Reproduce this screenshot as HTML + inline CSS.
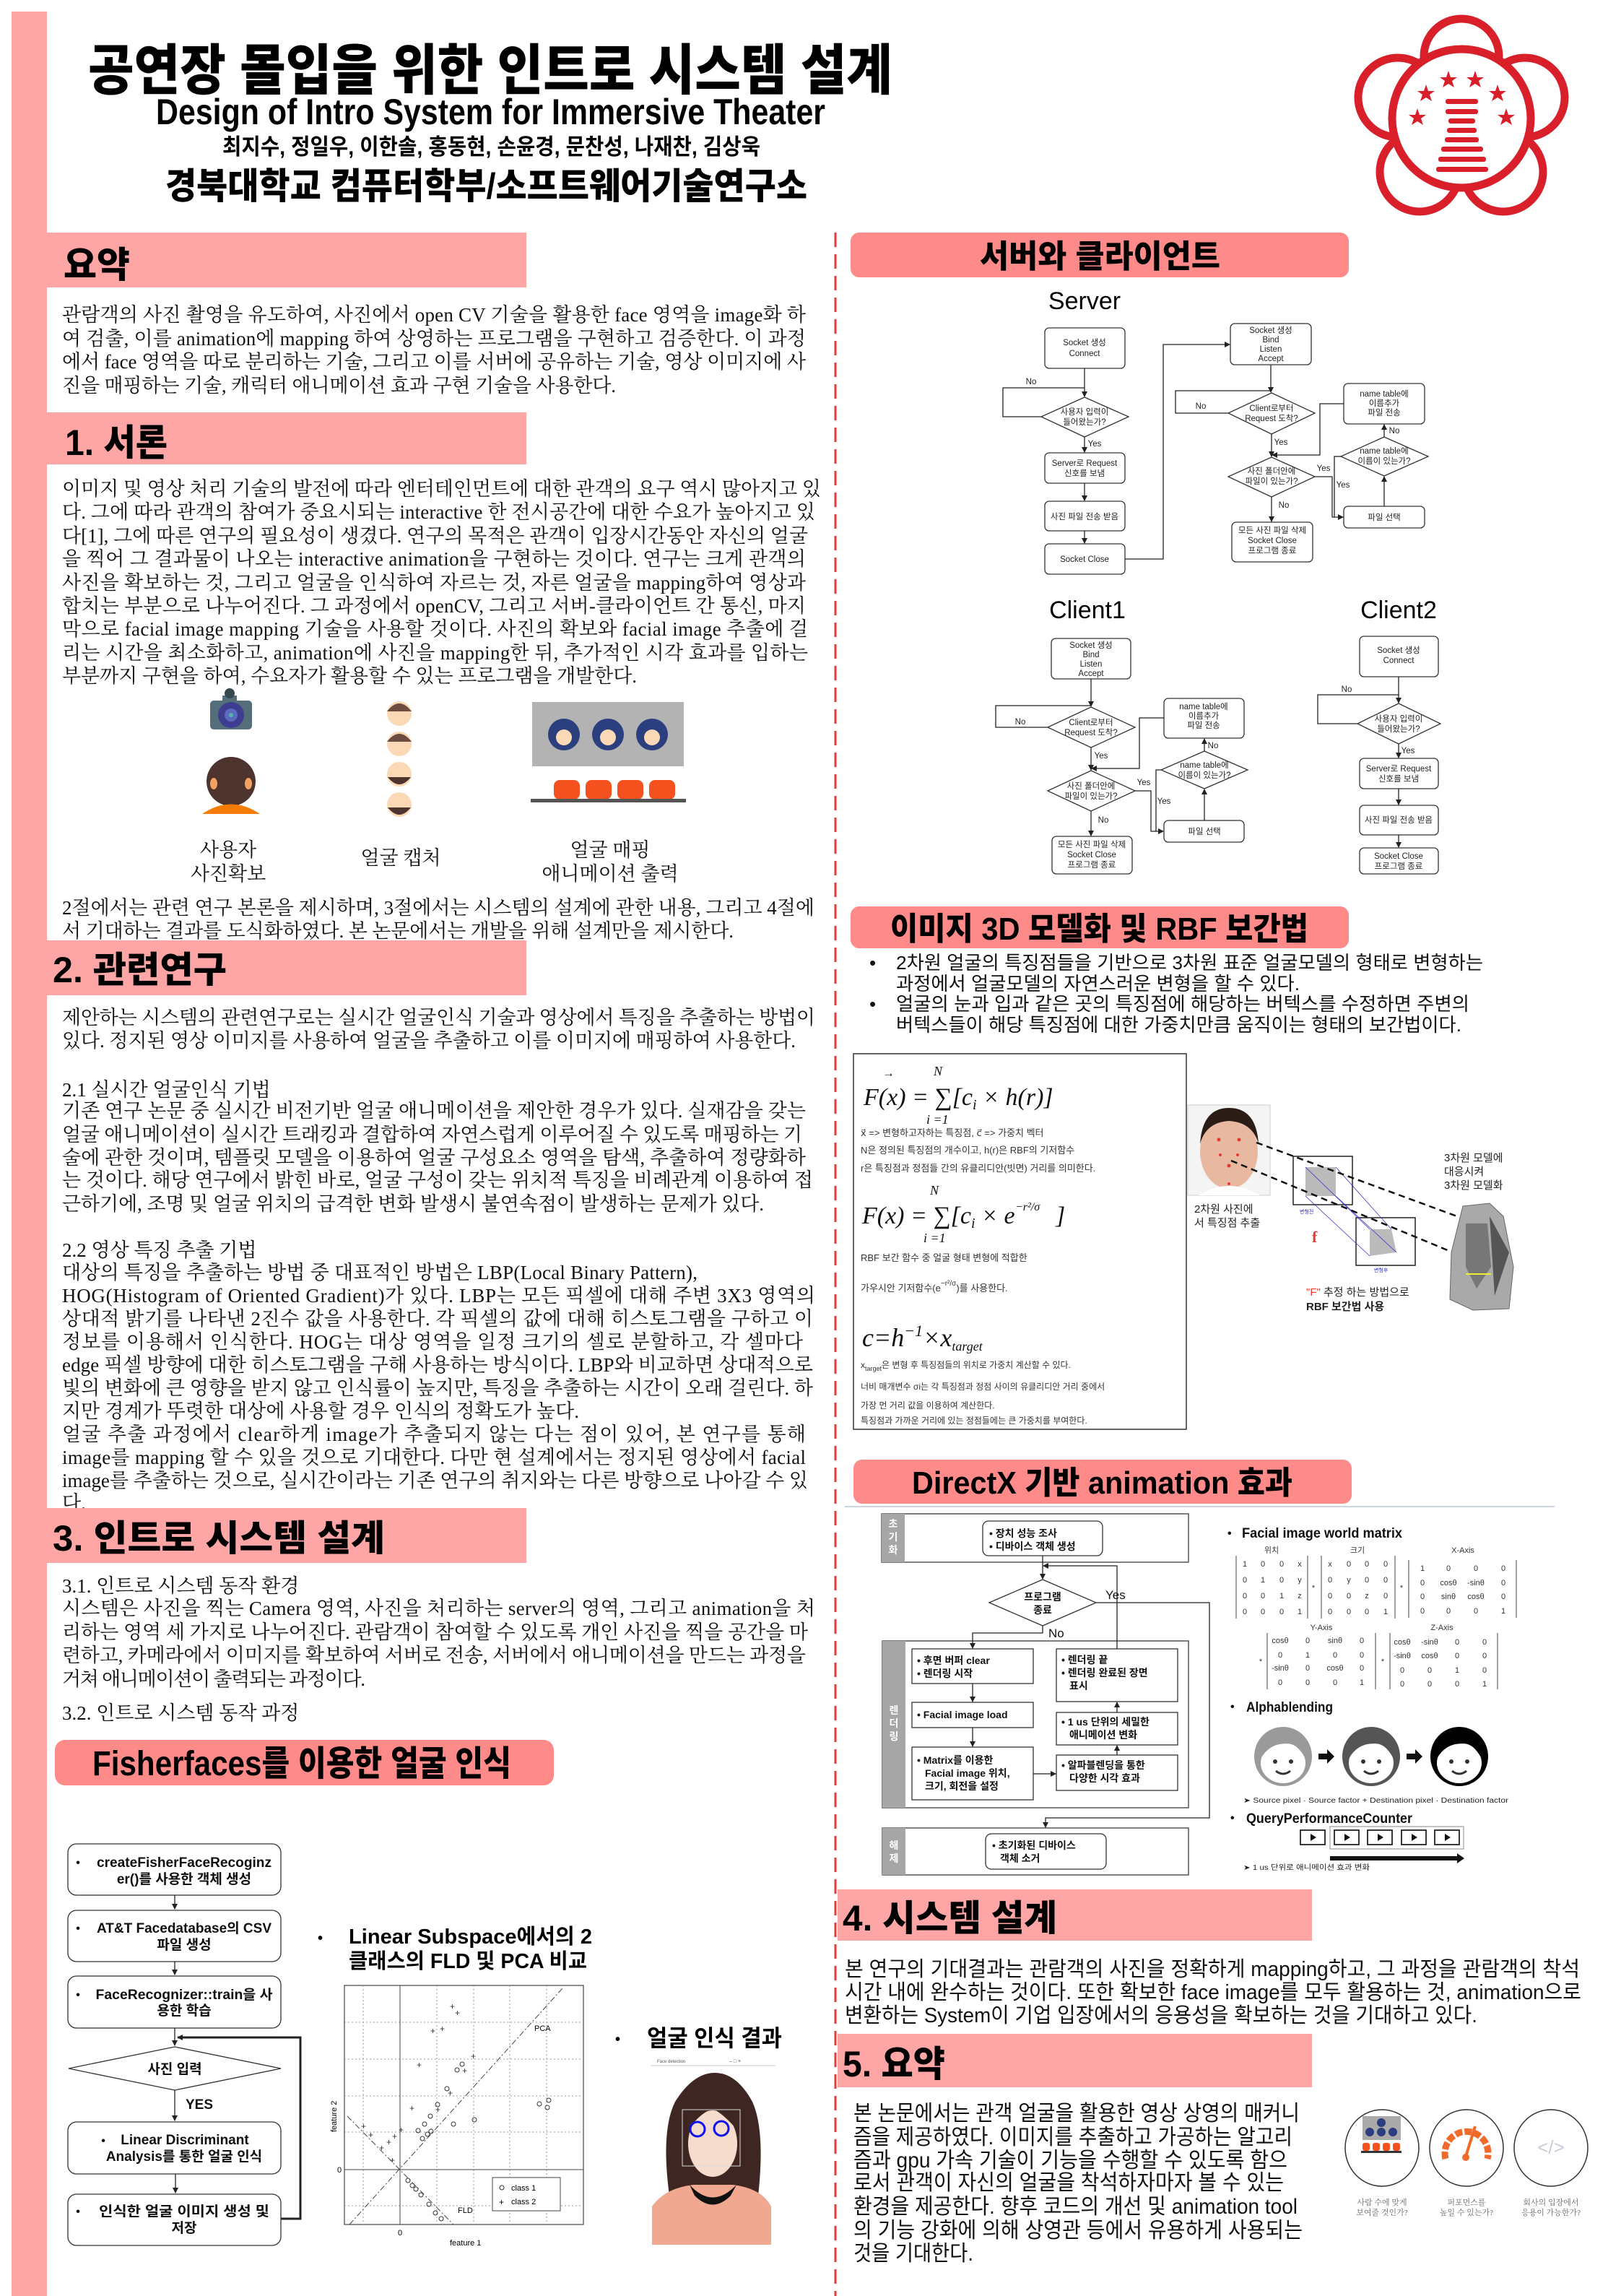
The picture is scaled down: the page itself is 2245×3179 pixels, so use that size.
<!DOCTYPE html>
<html><head><meta charset="utf-8"><style>
html,body{margin:0;padding:0;background:#fff}
svg{display:block}
.h{font-family:"Liberation Sans","Noto Sans CJK KR",sans-serif;font-weight:900}
.sb{font-family:"Liberation Sans","Noto Sans CJK KR",sans-serif;font-weight:700}
.s{font-family:"Liberation Sans","Noto Sans CJK KR",sans-serif}
.b{font-family:"Liberation Serif","Noto Serif CJK SC",serif;font-size:27px;fill:#111}
.f{font-family:"Liberation Sans","Noto Sans CJK KR",sans-serif;font-size:11.5px;fill:#222;text-anchor:middle}
.fb rect,.fb polygon{fill:#fff;stroke:#333;stroke-width:1.3}
.ln{fill:none;stroke:#222;stroke-width:1.3}
.m{font-family:"Liberation Serif","Noto Serif CJK SC",serif;font-style:italic;fill:#111}
.mt{font-family:"Liberation Sans","Noto Sans CJK KR",sans-serif;font-size:11px;fill:#333;text-anchor:middle}
</style></head><body>
<svg width="2245" height="3179" viewBox="0 0 2245 3179" xmlns="http://www.w3.org/2000/svg">
<defs>
<marker id="ar" markerWidth="8" markerHeight="8" refX="7" refY="4" orient="auto" markerUnits="userSpaceOnUse"><path d="M0,0 L8,4 L0,8 z" fill="#222"/></marker>
</defs>
<rect width="2245" height="3179" fill="#fff"/>
<rect x="16" y="16" width="49" height="3163" fill="#fea5a5"/>

<!-- Header -->
<text class="h" x="122" y="124" font-size="76" textLength="1114" lengthAdjust="spacingAndGlyphs">공연장 몰입을 위한 인트로 시스템 설계</text>
<text class="h" x="216" y="172" font-size="50" textLength="927" lengthAdjust="spacingAndGlyphs">Design of Intro System for Immersive Theater</text>
<text class="sb" x="308" y="214" font-size="31" textLength="745" lengthAdjust="spacingAndGlyphs">최지수, 정일우, 이한솔, 홍동현, 손윤경, 문찬성, 나재찬, 김상욱</text>
<text class="h" x="229" y="275" font-size="50" textLength="889" lengthAdjust="spacingAndGlyphs">경북대학교 컴퓨터학부/소프트웨어기술연구소</text>

<!-- Logo -->
<g stroke="#d9202a" stroke-width="11" fill="#fff">
<circle cx="2024" cy="78" r="52"/>
<circle cx="2112" cy="135" r="55"/>
<circle cx="2082" cy="238" r="55"/>
<circle cx="1966" cy="238" r="55"/>
<circle cx="1936" cy="135" r="55"/>
<circle cx="2024" cy="164" r="96"/>
</g>
<g fill="#d9202a">
<polygon points="2006,98 2009,107 2018,107 2011,112 2014,121 2006,116 1998,121 2001,112 1994,107 2003,107"/>
<polygon points="2043,98 2046,107 2055,107 2048,112 2051,121 2043,116 2035,121 2038,112 2031,107 2040,107"/>
<polygon points="1975,117 1978,126 1987,126 1980,131 1983,140 1975,135 1967,140 1970,131 1963,126 1972,126"/>
<polygon points="2074,117 2077,126 2086,126 2079,131 2082,140 2074,135 2066,140 2069,131 2062,126 2071,126"/>
<polygon points="1963,150 1966,159 1975,159 1968,164 1971,173 1963,168 1955,173 1958,164 1951,159 1960,159"/>
<polygon points="2086,150 2089,159 2098,159 2091,164 2094,173 2086,168 2078,173 2081,164 2074,159 2083,159"/>
<rect x="2002" y="137" width="45" height="7" rx="3"/>
<rect x="2002" y="151" width="45" height="7" rx="3"/>
<rect x="2006" y="164" width="37" height="7" rx="3"/>
<rect x="2004" y="177" width="41" height="7" rx="3"/>
<rect x="2001" y="190" width="47" height="7" rx="3"/>
<rect x="1996" y="203" width="58" height="7" rx="3"/>
<rect x="1992" y="217" width="66" height="7" rx="3"/>
<rect x="1989" y="231" width="72" height="7" rx="3"/>
</g>

<line x1="1157" y1="322" x2="1157" y2="3179" stroke="#e83a3a" stroke-width="3" stroke-dasharray="20,10"/>

<!-- ============ LEFT COLUMN ============ -->
<rect x="65" y="322" width="664" height="76" fill="#fea5a5"/>
<text class="h" x="88" y="384" font-size="50">요약</text>
<g class="b">
<text x="86" y="445" textLength="1030" lengthAdjust="spacing">관람객의 사진 촬영을 유도하여, 사진에서 open CV 기술을 활용한 face 영역을 image화 하</text>
<text x="86" y="478" textLength="1030" lengthAdjust="spacing">여 검출, 이를 animation에 mapping 하여 상영하는 프로그램을 구현하고 검증한다. 이 과정</text>
<text x="86" y="510" textLength="1030" lengthAdjust="spacing">에서 face 영역을 따로 분리하는 기술, 그리고 이를 서버에 공유하는 기술, 영상 이미지에 사</text>
<text x="86" y="543" textLength="767" lengthAdjust="spacing">진을 매핑하는 기술, 캐릭터 애니메이션 효과 구현 기술을 사용한다.</text>
</g>

<rect x="65" y="571" width="664" height="72" fill="#fea5a5"/>
<text class="h" x="90" y="630" font-size="50" textLength="142" lengthAdjust="spacingAndGlyphs">1. 서론</text>
<g class="b">
<text x="86" y="686" textLength="1051" lengthAdjust="spacing">이미지 및 영상 처리 기술의 발전에 따라 엔터테인먼트에 대한 관객의 요구 역시 많아지고 있</text>
<text x="86" y="718" textLength="1043" lengthAdjust="spacing">다. 그에 따라 관객의 참여가 중요시되는 interactive 한 전시공간에 대한 수요가 높아지고 있</text>
<text x="86" y="751" textLength="1033" lengthAdjust="spacing">다[1], 그에 따른 연구의 필요성이 생겼다. 연구의 목적은 관객이 입장시간동안 자신의 얼굴</text>
<text x="86" y="783" textLength="1030" lengthAdjust="spacing">을 찍어 그 결과물이 나오는 interactive animation을 구현하는 것이다. 연구는 크게 관객의</text>
<text x="86" y="816" textLength="1030" lengthAdjust="spacing">사진을 확보하는 것, 그리고 얼굴을 인식하여 자르는 것, 자른 얼굴을 mapping하여 영상과</text>
<text x="86" y="848" textLength="1030" lengthAdjust="spacing">합치는 부분으로 나누어진다. 그 과정에서 openCV, 그리고 서버-클라이언트 간 통신, 마지</text>
<text x="86" y="880" textLength="1033" lengthAdjust="spacing">막으로 facial image mapping 기술을 사용할 것이다. 사진의 확보와 facial image 추출에 걸</text>
<text x="86" y="913" textLength="1033" lengthAdjust="spacing">리는 시간을 최소화하고, animation에 사진을 mapping한 뒤, 추가적인 시각 효과를 입하는</text>
<text x="86" y="945" textLength="796" lengthAdjust="spacing">부분까지 구현을 하여, 수요자가 활용할 수 있는 프로그램을 개발한다.</text>
</g>
<rect x="291" y="970" width="58" height="40" rx="5" fill="#546e7a"/>
<rect x="308" y="963" width="20" height="8" fill="#546e7a"/>
<circle cx="318" cy="960" r="7" fill="#37474f"/>
<circle cx="320" cy="990" r="18" fill="#3f3d8f"/>
<circle cx="320" cy="990" r="9" fill="#5c6bc0"/>
<circle cx="320" cy="990" r="3" fill="#4db6ac"/>
<circle cx="320" cy="1082" r="34" fill="#4e342e"/>
<ellipse cx="296" cy="1085" rx="5" ry="8" fill="#f4a261"/>
<ellipse cx="344" cy="1085" rx="5" ry="8" fill="#f4a261"/>
<path d="M280,1127 Q320,1100 360,1127 Z" fill="#f57c00"/>
<g>
<circle cx="553" cy="988" r="17" fill="#fcd9b6"/><path d="M536,985 Q553,963 570,985 Z" fill="#6d4c41"/>
<circle cx="553" cy="1030" r="17" fill="#fcd9b6"/><path d="M536,1027 Q553,1005 570,1027 Z" fill="#6d4c41"/>
<circle cx="553" cy="1072" r="17" fill="#fcd9b6"/><path d="M537,1076 Q553,1096 569,1076 Z" fill="#4e342e"/>
<circle cx="553" cy="1114" r="17" fill="#fcd9b6"/><path d="M537,1118 Q553,1138 569,1118 Z" fill="#4e342e"/>
</g>
<rect x="737" y="972" width="210" height="89" fill="#b3b3b3"/>
<g fill="#2b3f7f"><circle cx="781" cy="1017" r="22"/><circle cx="842" cy="1017" r="22"/><circle cx="903" cy="1017" r="22"/></g>
<g fill="#fcd9b6"><circle cx="781" cy="1021" r="11"/><circle cx="842" cy="1021" r="11"/><circle cx="903" cy="1021" r="11"/></g>
<g fill="#f4511e"><rect x="767" y="1080" width="36" height="27" rx="8"/><rect x="811" y="1080" width="36" height="27" rx="8"/><rect x="855" y="1080" width="36" height="27" rx="8"/><rect x="899" y="1080" width="36" height="27" rx="8"/></g>
<rect x="735" y="1106" width="215" height="5" fill="#555"/>
<g class="b" text-anchor="middle" font-size="26">
<text x="316" y="1186">사용자</text><text x="316" y="1219">사진확보</text>
<text x="555" y="1197">얼굴 캡처</text>
<text x="845" y="1186">얼굴 매핑</text><text x="845" y="1219">애니메이션 출력</text>
</g>
<g class="b">
<text x="86" y="1266" textLength="1042" lengthAdjust="spacing">2절에서는 관련 연구 본론을 제시하며, 3절에서는 시스템의 설계에 관한 내용, 그리고 4절에</text>
<text x="86" y="1298" textLength="930" lengthAdjust="spacing">서 기대하는 결과를 도식화하였다. 본 논문에서는 개발을 위해 설계만을 제시한다.</text>
</g>

<g transform="translate(0,-10)">
<rect x="65" y="1312" width="664" height="76" fill="#fea5a5"/>
<text class="h" x="73" y="1370" font-size="50" textLength="241" lengthAdjust="spacingAndGlyphs">2. 관련연구</text>
<g class="b">
<text x="86" y="1428" textLength="1043" lengthAdjust="spacing">제안하는 시스템의 관련연구로는 실시간 얼굴인식 기술과 영상에서 특징을 추출하는 방법이</text>
<text x="86" y="1460" textLength="1016" lengthAdjust="spacing">있다. 정지된 영상 이미지를 사용하여 얼굴을 추출하고 이를 이미지에 매핑하여 사용한다.</text>
<text x="86" y="1528">2.1 실시간 얼굴인식 기법</text>
<text x="86" y="1557" textLength="1030" lengthAdjust="spacing">기존 연구 논문 중 실시간 비전기반 얼굴 애니메이션을 제안한 경우가 있다. 실재감을 갖는</text>
<text x="86" y="1590" textLength="1025" lengthAdjust="spacing">얼굴 애니메이션이 실시간 트래킹과 결합하여 자연스럽게 이루어질 수 있도록 매핑하는 기</text>
<text x="86" y="1622" textLength="1030" lengthAdjust="spacing">술에 관한 것이며, 템플릿 모델을 이용하여 얼굴 구성요소 영역을 탐색, 추출하여 정량화하</text>
<text x="86" y="1653" textLength="1040" lengthAdjust="spacing">는 것이다. 해당 연구에서 밝힌 바로, 얼굴 구성이 갖는 위치적 특징을 비례관계 이용하여 접</text>
<text x="86" y="1686" textLength="972" lengthAdjust="spacing">근하기에, 조명 및 얼굴 위치의 급격한 변화 발생시 불연속점이 발생하는 문제가 있다.</text>
<text x="86" y="1750">2.2 영상 특징 추출 기법</text>
<text x="86" y="1781" textLength="880" lengthAdjust="spacing">대상의 특징을 추출하는 방법 중 대표적인 방법은 LBP(Local Binary Pattern),</text>
<text x="86" y="1813" textLength="1043" lengthAdjust="spacing">HOG(Histogram of Oriented Gradient)가 있다. LBP는 모든 픽셀에 대해 주변 3X3 영역의</text>
<text x="86" y="1845" textLength="1040" lengthAdjust="spacing">상대적 밝기를 나타낸 2진수 값을 사용한다. 각 픽셀의 값에 대해 히스토그램을 구하고 이</text>
<text x="86" y="1877" textLength="1026" lengthAdjust="spacing">정보를 이용해서 인식한다. HOG는 대상 영역을 일정 크기의 셀로 분할하고, 각 셀마다</text>
<text x="86" y="1909" textLength="1040" lengthAdjust="spacing">edge 픽셀 방향에 대한 히스토그램을 구해 사용하는 방식이다. LBP와 비교하면 상대적으로</text>
<text x="86" y="1941" textLength="1040" lengthAdjust="spacing">빛의 변화에 큰 영향을 받지 않고 인식률이 높지만, 특징을 추출하는 시간이 오래 걸린다. 하</text>
<text x="86" y="1973" textLength="716" lengthAdjust="spacing">지만 경계가 뚜렷한 대상에 사용할 경우 인식의 정확도가 높다.</text>
<text x="86" y="2005" textLength="1030" lengthAdjust="spacing">얼굴 추출 과정에서 clear하게 image가 추출되지 않는 다는 점이 있어, 본 연구를 통해</text>
<text x="86" y="2037" textLength="1030" lengthAdjust="spacing">image를 mapping 할 수 있을 것으로 기대한다. 다만 현 설계에서는 정지된 영상에서 facial</text>
<text x="86" y="2069" textLength="1033" lengthAdjust="spacing">image를 추출하는 것으로, 실시간이라는 기존 연구의 취지와는 다른 방향으로 나아갈 수 있</text>
<text x="86" y="2100">다.</text>
</g>
</g>

<g transform="translate(0,-14)">
<rect x="65" y="2102" width="664" height="76" fill="#fea5a5"/>
<text class="h" x="73" y="2161" font-size="50" textLength="460" lengthAdjust="spacingAndGlyphs">3. 인트로 시스템 설계</text>
<g class="b">
<text x="86" y="2219">3.1. 인트로 시스템 동작 환경</text>
<text x="86" y="2250" textLength="1043" lengthAdjust="spacing">시스템은 사진을 찍는 Camera 영역, 사진을 처리하는 server의 영역, 그리고 animation을 처</text>
<text x="86" y="2283" textLength="1033" lengthAdjust="spacing">리하는 영역 세 가지로 나누어진다. 관람객이 참여할 수 있도록 개인 사진을 찍을 공간을 마</text>
<text x="86" y="2315" textLength="1030" lengthAdjust="spacing">련하고, 카메라에서 이미지를 확보하여 서버로 전송, 서버에서 애니메이션을 만드는 과정을</text>
<text x="86" y="2348" textLength="420" lengthAdjust="spacing">거쳐 애니메이션이 출력되는 과정이다.</text>
<text x="86" y="2395">3.2. 인트로 시스템 동작 과정</text>
</g>
</g>

<g transform="translate(0,-16)">
<rect x="76" y="2425" width="691" height="63" rx="14" fill="#ff8a8a"/>
<text class="h" x="128" y="2474" font-size="48" textLength="580" lengthAdjust="spacingAndGlyphs">Fisherfaces를 이용한 얼굴 인식</text>
</g>

<g transform="translate(0,-10)">
<g class="fb">
<rect x="94" y="2563" width="295" height="71" rx="12"/>
<rect x="94" y="2655" width="295" height="71" rx="12"/>
<rect x="94" y="2746" width="295" height="72" rx="12"/>
<polygon points="242,2844 389,2874 242,2904 95,2874"/>
<rect x="94" y="2948" width="295" height="72" rx="12"/>
<rect x="94" y="3048" width="295" height="71" rx="12"/>
</g>
<g class="ln" stroke-width="2">
<line x1="242" y1="2634" x2="242" y2="2653" marker-end="url(#ar)"/>
<line x1="242" y1="2726" x2="242" y2="2744" marker-end="url(#ar)"/>
<line x1="242" y1="2818" x2="242" y2="2842" marker-end="url(#ar)"/>
<line x1="242" y1="2904" x2="242" y2="2946" marker-end="url(#ar)"/>
<line x1="243" y1="3020" x2="243" y2="3046" marker-end="url(#ar)"/>
<polyline points="389,3082 416,3082 416,2831 246,2831" stroke-width="3" marker-end="url(#ar)"/>
</g>
<g class="sb" font-size="19" text-anchor="middle" fill="#111">
<text x="108" y="2594" font-size="16">•</text>
<text x="255" y="2595" textLength="242" lengthAdjust="spacingAndGlyphs">createFisherFaceRecoginz</text>
<text x="255" y="2618">er()를 사용한 객체 생성</text>
<text x="108" y="2685" font-size="16">•</text>
<text x="255" y="2686" textLength="242" lengthAdjust="spacingAndGlyphs">AT&amp;T Facedatabase의 CSV</text>
<text x="255" y="2709">파일 생성</text>
<text x="108" y="2777" font-size="16">•</text>
<text x="255" y="2778" textLength="245" lengthAdjust="spacingAndGlyphs">FaceRecognizer::train을 사</text>
<text x="255" y="2800">용한 학습</text>
<text x="242" y="2881">사진 입력</text>
<text x="276" y="2930">YES</text>
<text x="143" y="2979" font-size="16">•</text>
<text x="256" y="2979">Linear Discriminant</text>
<text x="255" y="3002">Analysis를 통한 얼굴 인식</text>
<text x="108" y="3077" font-size="16">•</text>
<text x="255" y="3078" textLength="236" lengthAdjust="spacingAndGlyphs">인식한 얼굴 이미지 생성 및</text>
<text x="255" y="3101">저장</text>
</g>
<text class="sb" x="440" y="2700" font-size="20">•</text>
<text class="sb" x="483" y="2701" font-size="29" textLength="337" lengthAdjust="spacingAndGlyphs">Linear Subspace에서의 2</text>
<text class="sb" x="483" y="2735" font-size="29" textLength="330" lengthAdjust="spacingAndGlyphs">클래스의 FLD 및 PCA 비교</text>
<rect x="477" y="2759" width="331" height="331" fill="#fff" stroke="#444" stroke-width="1.2"/>
<g stroke="#999" stroke-width="1" stroke-dasharray="2,3">
<line x1="503" y1="2759" x2="503" y2="3090"/><line x1="605" y1="2759" x2="605" y2="3090"/><line x1="656" y1="2759" x2="656" y2="3090"/><line x1="706" y1="2759" x2="706" y2="3090"/><line x1="757" y1="2759" x2="757" y2="3090"/>
<line x1="477" y1="2810" x2="808" y2="2810"/><line x1="477" y1="2861" x2="808" y2="2861"/><line x1="477" y1="2912" x2="808" y2="2912"/><line x1="477" y1="2962" x2="808" y2="2962"/><line x1="477" y1="3064" x2="808" y2="3064"/>
</g>
<line x1="554" y1="2759" x2="554" y2="3090" stroke="#444"/>
<line x1="477" y1="3014" x2="808" y2="3014" stroke="#444"/>
<line x1="484" y1="3090" x2="779" y2="2763" stroke="#444" stroke-dasharray="8,3,2,3"/>
<line x1="481" y1="2940" x2="628" y2="3090" stroke="#444" stroke-dasharray="8,3,2,3"/>
<g font-family="Liberation Sans,sans-serif" font-size="12" fill="#333">
<text x="623" y="2792">+</text><text x="630" y="2801">+</text><text x="596" y="2826">+</text><text x="609" y="2823">+</text><text x="577" y="2873">+</text><text x="567" y="2933">+</text><text x="552" y="2963">+</text><text x="535" y="2980">+</text><text x="543" y="2972">+</text><text x="652" y="2861">+</text><text x="640" y="2881">+</text><text x="620" y="2912">+</text><text x="603" y="2935">+</text><text x="500" y="2958">+</text><text x="510" y="2970">+</text><text x="525" y="2988">+</text><text x="540" y="3005">+</text>
</g>
<g fill="none" stroke="#333" stroke-width="1">
<circle cx="640" cy="2868" r="3"/><circle cx="633" cy="2876" r="3"/><circle cx="619" cy="2902" r="3"/><circle cx="606" cy="2924" r="3"/><circle cx="596" cy="2940" r="3"/><circle cx="588" cy="2951" r="3"/><circle cx="579" cy="2960" r="3"/><circle cx="585" cy="2971" r="3"/><circle cx="592" cy="2965" r="3"/><circle cx="597" cy="2961" r="3"/><circle cx="628" cy="2951" r="3"/><circle cx="657" cy="2945" r="3"/><circle cx="747" cy="2923" r="3"/><circle cx="760" cy="2918" r="3"/><circle cx="758" cy="2928" r="3"/><circle cx="565" cy="3029" r="3"/><circle cx="571" cy="3036" r="3"/><circle cx="576" cy="3041" r="3"/><circle cx="583" cy="3049" r="3"/><circle cx="594" cy="3062" r="3"/><circle cx="603" cy="3074" r="3"/><circle cx="611" cy="3082" r="3"/>
</g>
<text x="740" y="2822" font-family="Liberation Sans,sans-serif" font-size="11">PCA</text>
<text x="634" y="3074" font-family="Liberation Sans,sans-serif" font-size="11">FLD</text>
<rect x="682" y="3025" width="94" height="46" fill="#fff" stroke="#444"/>
<circle cx="695" cy="3039" r="3" fill="none" stroke="#333"/>
<text x="708" y="3043" font-family="Liberation Sans,sans-serif" font-size="11">class 1</text>
<text x="691" y="3063" font-family="Liberation Sans,sans-serif" font-size="12">+</text>
<text x="708" y="3062" font-family="Liberation Sans,sans-serif" font-size="11">class 2</text>
<text x="551" y="3105" font-family="Liberation Sans,sans-serif" font-size="11">0</text>
<text x="467" y="3018" font-family="Liberation Sans,sans-serif" font-size="11">0</text>
<text x="623" y="3119" font-family="Liberation Sans,sans-serif" font-size="11">feature 1</text>
<text x="0" y="0" font-family="Liberation Sans,sans-serif" font-size="11" transform="translate(466,2962) rotate(-90)">feature 2</text>
<text class="sb" x="852" y="2840" font-size="20">•</text>
<text class="sb" x="896" y="2843" font-size="32" textLength="187" lengthAdjust="spacingAndGlyphs">얼굴 인식 결과</text>
<text x="910" y="2866" font-family="Liberation Sans,sans-serif" font-size="6" fill="#555">Face detection</text>
<text x="1010" y="2866" font-family="Liberation Sans,sans-serif" font-size="7" fill="#555">–    □    ×</text>
<line x1="901" y1="2870" x2="1074" y2="2870" stroke="#ccc"/>
<path d="M927,3050 Q915,2960 935,2920 Q960,2880 990,2880 Q1020,2880 1042,2920 Q1060,2960 1050,3050 Z" fill="#3e2723"/>
<ellipse cx="987" cy="2978" rx="34" ry="46" fill="#f6dccd"/>
<path d="M952,2960 Q955,2910 987,2905 Q1020,2910 1022,2960 Q1000,2935 987,2930 Q970,2935 952,2960 Z" fill="#3e2723"/>
<rect x="945" y="2931" width="80" height="78" fill="none" stroke="#ddd"/>
<circle cx="966" cy="2958" r="10" fill="none" stroke="#1010ee" stroke-width="3"/>
<circle cx="999" cy="2957" r="10" fill="none" stroke="#1010ee" stroke-width="3"/>
<path d="M903,3118 L903,3065 Q920,3040 960,3035 L1015,3035 Q1055,3040 1068,3065 L1068,3118 Z" fill="#f0a890"/>
<path d="M955,3035 Q987,3070 1020,3035 L1012,3050 Q987,3075 962,3050 Z" fill="#111"/>
</g>

<!-- ============ RIGHT COLUMN ============ -->
<rect x="1178" y="322" width="690" height="62" rx="12" fill="#ff8a8a"/>
<text class="h" x="1357" y="370" font-size="44" textLength="333" lengthAdjust="spacingAndGlyphs">서버와 클라이언트</text>

<text class="s" x="1502" y="428" font-size="34" text-anchor="middle">Server</text>
<text class="s" x="1506" y="856" font-size="34" text-anchor="middle">Client1</text>
<text class="s" x="1937" y="856" font-size="34" text-anchor="middle">Client2</text>

<g class="fb">
<rect x="1447" y="454" width="111" height="56" rx="6"/>
<polygon points="1502,550 1563,577 1502,605 1442,577"/>
<rect x="1447" y="627" width="111" height="42" rx="6"/>
<rect x="1447" y="694" width="111" height="41" rx="6"/>
<rect x="1447" y="753" width="111" height="42" rx="6"/>
<rect x="1704" y="448" width="112" height="57" rx="6"/>
<polygon points="1761,544 1821,572 1761,601 1701,572"/>
<polygon points="1761,633 1821,660 1761,688 1701,660"/>
<rect x="1706" y="723" width="112" height="55" rx="6"/>
<rect x="1861" y="531" width="112" height="56" rx="6"/>
<polygon points="1917,605 1978,632 1917,659 1857,632"/>
<rect x="1861" y="701" width="112" height="30" rx="6"/>
</g>
<g class="ln">
<line x1="1502" y1="510" x2="1502" y2="549" marker-end="url(#ar)"/>
<polyline points="1442,577 1389,577 1389,537 1502,537"/>
<line x1="1502" y1="605" x2="1502" y2="626" marker-end="url(#ar)"/>
<line x1="1502" y1="669" x2="1502" y2="693" marker-end="url(#ar)"/>
<line x1="1502" y1="735" x2="1502" y2="752" marker-end="url(#ar)"/>
<polyline points="1558,774 1611,774 1611,477 1703,477" marker-end="url(#ar)"/>
<line x1="1760" y1="505" x2="1760" y2="543" marker-end="url(#ar)"/>
<polyline points="1701,572 1628,572 1628,541 1760,541"/>
<line x1="1761" y1="601" x2="1761" y2="632" marker-end="url(#ar)"/>
<line x1="1761" y1="688" x2="1761" y2="722" marker-end="url(#ar)"/>
<polyline points="1861,559 1828,559 1828,630 1762,630" marker-end="url(#ar)"/>
<polyline points="1821,660 1845,660 1845,716 1860,716" marker-end="url(#ar)"/>
<polyline points="1857,632 1848,632 1848,716"/>
<line x1="1917" y1="701" x2="1917" y2="660" marker-end="url(#ar)"/>
<line x1="1917" y1="605" x2="1917" y2="588" marker-end="url(#ar)"/>
</g>
<g class="f">
<text x="1502" y="478">Socket 생성</text><text x="1502" y="493">Connect</text>
<text x="1502" y="574">사용자 입력이</text><text x="1502" y="588">들어왔는가?</text>
<text x="1428" y="532">No</text><text x="1516" y="618">Yes</text>
<text x="1502" y="645">Server로 Request</text><text x="1502" y="659">신호를 보냄</text>
<text x="1502" y="719">사진 파일 전송 받음</text>
<text x="1502" y="778">Socket Close</text>
<text x="1760" y="461">Socket 생성</text><text x="1760" y="474">Bind</text><text x="1760" y="487">Listen</text><text x="1760" y="500">Accept</text>
<text x="1761" y="569">Client로부터</text><text x="1761" y="583">Request 도착?</text>
<text x="1663" y="566">No</text><text x="1774" y="616">Yes</text>
<text x="1761" y="656">사진 폴더안에</text><text x="1761" y="670">파일이 있는가?</text>
<text x="1778" y="703">No</text>
<text x="1762" y="738">모든 사진 파일 삭제</text><text x="1762" y="752">Socket Close</text><text x="1762" y="766">프로그램 종료</text>
<text x="1917" y="549">name table에</text><text x="1917" y="562">이름추가</text><text x="1917" y="575">파일 전송</text>
<text x="1917" y="628">name table에</text><text x="1917" y="642">이름이 있는가?</text>
<text x="1931" y="600">No</text><text x="1833" y="652">Yes</text><text x="1860" y="675">Yes</text>
<text x="1917" y="720">파일 선택</text>
</g>

<g class="fb">
<rect x="1456" y="884" width="110" height="56" rx="6"/>
<polygon points="1511,979 1572,1007 1511,1035 1451,1007"/>
<polygon points="1511,1067 1572,1095 1511,1123 1451,1095"/>
<rect x="1457" y="1158" width="111" height="52" rx="6"/>
<rect x="1612" y="967" width="111" height="55" rx="6"/>
<polygon points="1668,1040 1728,1066 1668,1092 1608,1066"/>
<rect x="1612" y="1136" width="111" height="30" rx="6"/>
</g>
<g class="ln">
<line x1="1511" y1="940" x2="1511" y2="978" marker-end="url(#ar)"/>
<polyline points="1451,1007 1379,1007 1379,977 1511,977"/>
<line x1="1511" y1="1035" x2="1511" y2="1066" marker-end="url(#ar)"/>
<line x1="1511" y1="1123" x2="1511" y2="1157" marker-end="url(#ar)"/>
<polyline points="1612,994 1578,994 1578,1064 1512,1064" marker-end="url(#ar)"/>
<polyline points="1572,1095 1594,1095 1594,1151 1611,1151" marker-end="url(#ar)"/>
<polyline points="1608,1066 1601,1066 1601,1151"/>
<line x1="1668" y1="1136" x2="1668" y2="1093" marker-end="url(#ar)"/>
<line x1="1668" y1="1040" x2="1668" y2="1023" marker-end="url(#ar)"/>
</g>
<g class="f">
<text x="1511" y="897">Socket 생성</text><text x="1511" y="910">Bind</text><text x="1511" y="923">Listen</text><text x="1511" y="936">Accept</text>
<text x="1511" y="1004">Client로부터</text><text x="1511" y="1018">Request 도착?</text>
<text x="1413" y="1003">No</text><text x="1525" y="1050">Yes</text>
<text x="1511" y="1092">사진 폴더안에</text><text x="1511" y="1106">파일이 있는가?</text>
<text x="1528" y="1139">No</text>
<text x="1512" y="1173">모든 사진 파일 삭제</text><text x="1512" y="1187">Socket Close</text><text x="1512" y="1201">프로그램 종료</text>
<text x="1667" y="982">name table에</text><text x="1667" y="995">이름추가</text><text x="1667" y="1008">파일 전송</text>
<text x="1668" y="1063">name table에</text><text x="1668" y="1077">이름이 있는가?</text>
<text x="1680" y="1036">No</text><text x="1584" y="1087">Yes</text><text x="1612" y="1113">Yes</text>
<text x="1668" y="1155">파일 선택</text>
</g>

<g class="fb">
<rect x="1883" y="881" width="109" height="56" rx="6"/>
<polygon points="1937,974 1995,1002 1937,1030 1880,1002"/>
<rect x="1883" y="1050" width="109" height="42" rx="6"/>
<rect x="1883" y="1115" width="109" height="41" rx="6"/>
<rect x="1883" y="1174" width="109" height="36" rx="6"/>
</g>
<g class="ln">
<line x1="1937" y1="937" x2="1937" y2="973" marker-end="url(#ar)"/>
<polyline points="1880,1002 1825,1002 1825,962 1937,962"/>
<line x1="1937" y1="1030" x2="1937" y2="1049" marker-end="url(#ar)"/>
<line x1="1937" y1="1092" x2="1937" y2="1114" marker-end="url(#ar)"/>
<line x1="1937" y1="1156" x2="1937" y2="1173" marker-end="url(#ar)"/>
</g>
<g class="f">
<text x="1937" y="904">Socket 생성</text><text x="1937" y="918">Connect</text>
<text x="1937" y="999">사용자 입력이</text><text x="1937" y="1013">들어왔는가?</text>
<text x="1865" y="958">No</text><text x="1950" y="1043">Yes</text>
<text x="1937" y="1068">Server로 Request</text><text x="1937" y="1082">신호를 보냄</text>
<text x="1937" y="1139">사진 파일 전송 받음</text>
<text x="1937" y="1189">Socket Close</text><text x="1937" y="1203">프로그램 종료</text>
</g>

<!-- 3D / RBF -->
<g transform="translate(0,-10)">
<rect x="1178" y="1265" width="690" height="58" rx="12" fill="#ff8a8a"/>
<text class="h" x="1233" y="1311" font-size="44" textLength="579" lengthAdjust="spacingAndGlyphs">이미지 3D 모델화 및 RBF 보간법</text>
<g class="s" font-size="26" fill="#111">
<text x="1204" y="1352">•</text>
<text x="1241" y="1352" textLength="813" lengthAdjust="spacingAndGlyphs">2차원 얼굴의 특징점들을 기반으로 3차원 표준 얼굴모델의 형태로 변형하는</text>
<text x="1241" y="1381" textLength="559" lengthAdjust="spacingAndGlyphs">과정에서 얼굴모델의 자연스러운 변형을 할 수 있다.</text>
<text x="1204" y="1409">•</text>
<text x="1241" y="1409" textLength="794" lengthAdjust="spacingAndGlyphs">얼굴의 눈과 입과 같은 곳의 특징점에 해당하는 버텍스를 수정하면 주변의</text>
<text x="1241" y="1438" textLength="783" lengthAdjust="spacingAndGlyphs">버텍스들이 해당 특징점에 대한 가중치만큼 움직이는 형태의 보간법이다.</text>
</g>
</g>
<g transform="translate(0,-6)">
<rect x="1182" y="1465" width="461" height="520" fill="#fff" stroke="#333" stroke-width="1.5"/>
<text class="m" x="1196" y="1536" font-size="34">F(<tspan>x</tspan>) = ∑[c<tspan font-size="20" dy="6">i</tspan><tspan dy="-6"> × h(r)]</tspan></text>
<text class="m" x="1222" y="1497" font-size="17">→</text>
<text class="m" x="1293" y="1495" font-size="18">N</text>
<text class="m" x="1283" y="1562" font-size="18">i =1</text>
<g class="s" font-size="13" fill="#333">
<text x="1192" y="1579">x⃗ => 변형하고자하는 특징점, c⃗ => 가중치 벡터</text>
<text x="1192" y="1603">N은 정의된 특징점의 개수이고, h(r)은 RBF의 기저함수</text>
<text x="1192" y="1628">r은 특징점과 정점들 간의 유클리디안(빗면) 거리를 의미한다.</text>
</g>
<text class="m" x="1194" y="1700" font-size="34">F(x) = ∑[c<tspan font-size="20" dy="6">i</tspan><tspan dy="-6"> × e</tspan></text>
<text class="m" x="1406" y="1682" font-size="16">−r²/σ</text>
<text class="m" x="1462" y="1700" font-size="34">]</text>
<text class="m" x="1288" y="1660" font-size="18">N</text>
<text class="m" x="1279" y="1726" font-size="18">i =1</text>
<g class="s" font-size="13" fill="#333">
<text x="1192" y="1752">RBF 보간 함수 중 얼굴 형태 변형에 적합한</text>
<text x="1192" y="1794">가우시안 기저함수(e<tspan dy="-8" font-size="10">−r²/σ</tspan><tspan dy="8">)를 사용한다.</tspan></text>
</g>
<text class="m" x="1194" y="1870" font-size="36">c=h<tspan dy="-14" font-size="22">−1</tspan><tspan dy="14">×x</tspan><tspan dy="6" font-size="18">target</tspan></text>
<g class="s" font-size="12" fill="#333">
<text x="1192" y="1900">x<tspan font-size="9" dy="4">target</tspan><tspan dy="-4">은 변형 후 특징점들의 위치로 가중치 계산할 수 있다.</tspan></text>
<text x="1192" y="1930">너비 매개변수 σi는 각 특징점과 정점 사이의 유클리디안 거리 중에서</text>
<text x="1192" y="1956">가장 먼 거리 값을 이용하여 계산한다.</text>
<text x="1192" y="1977">특징점과 가까운 거리에 있는 정점들에는 큰 가중치를 부여한다.</text>
</g>
<rect x="1645" y="1536" width="114" height="125" fill="#f4f4f4" stroke="#ccc"/>
<ellipse cx="1702" cy="1600" rx="40" ry="52" fill="#e8b9a0"/>
<path d="M1662,1590 Q1665,1540 1702,1540 Q1740,1540 1743,1590 Q1735,1560 1702,1558 Q1670,1560 1662,1590 Z" fill="#2b1d16"/>
<path d="M1660,1661 Q1702,1635 1745,1661 Z" fill="#fff"/>
<g fill="#e53935"><circle cx="1688" cy="1584" r="2.5"/><circle cx="1716" cy="1584" r="2.5"/><circle cx="1702" cy="1620" r="2.5"/><circle cx="1690" cy="1605" r="2"/><circle cx="1714" cy="1605" r="2"/><circle cx="1702" cy="1645" r="2"/></g>
<text class="s" x="1654" y="1685" font-size="15" fill="#222">2차원 사진에</text>
<text class="s" x="1654" y="1704" font-size="15" fill="#222">서 특징점 추출</text>
<rect x="1791" y="1607" width="82" height="67" fill="#fff" stroke="#222" stroke-width="1.5"/>
<rect x="1808" y="1622" width="42" height="40" fill="#bbb"/>
<rect x="1878" y="1692" width="82" height="66" fill="#fff" stroke="#222" stroke-width="1.5"/>
<polygon points="1897,1708 1927,1708 1934,1740 1897,1745" fill="#bbb"/>
<g stroke="#3333cc" stroke-width="0.8"><line x1="1808" y1="1622" x2="1897" y2="1708"/><line x1="1850" y1="1622" x2="1927" y2="1708"/><line x1="1808" y1="1662" x2="1897" y2="1745"/><line x1="1850" y1="1662" x2="1934" y2="1740"/></g>
<text x="1817" y="1726" font-family="Liberation Serif,serif" font-weight="700" font-size="22" fill="#e53935">f</text>
<text class="s" x="1800" y="1686" font-size="7" fill="#33c">변형전</text>
<text class="s" x="1903" y="1767" font-size="7" fill="#33c">변형후</text>
<g stroke="#111" stroke-width="2.5" stroke-dasharray="9,6" fill="none">
<line x1="1740" y1="1588" x2="2045" y2="1700"/>
<line x1="1705" y1="1613" x2="2012" y2="1740"/>
</g>
<polygon points="2026,1676 2063,1672 2082,1690 2096,1760 2090,1818 2040,1820 2008,1805 2010,1740" fill="#a9a9a9" stroke="#666"/>
<polygon points="2030,1700 2060,1700 2065,1760 2045,1790 2030,1760" fill="#777"/>
<polygon points="2063,1690 2090,1740 2070,1800" fill="#555"/>
<line x1="2030" y1="1770" x2="2065" y2="1770" stroke="#ee3" stroke-width="2"/>
<text class="s" x="2000" y="1614" font-size="15" fill="#222">3차원 모델에</text>
<text class="s" x="2000" y="1633" font-size="15" fill="#222">대응시켜</text>
<text class="s" x="2000" y="1652" font-size="15" fill="#222">3차원 모델화</text>
<text class="s" x="1809" y="1800" font-size="15" fill="#222"><tspan fill="#e53935">"F"</tspan> 추정 하는 방법으로</text>
<text class="sb" x="1809" y="1820" font-size="15" fill="#222">RBF 보간법 사용</text>
</g>

<!-- DirectX -->
<g transform="translate(0,-14)">
<rect x="1182" y="2035" width="690" height="61" rx="12" fill="#ff8a8a"/>
<text class="h" x="1263" y="2082" font-size="44" textLength="527" lengthAdjust="spacingAndGlyphs">DirectX 기반 animation 효과</text>
<line x1="1170" y1="2100" x2="2153" y2="2100" stroke="#cdd6e0" stroke-width="2"/>
</g>
<g transform="translate(0,-10)">
<g fill="#fff" stroke="#555" stroke-width="1.5">
<rect x="1221" y="2106" width="425" height="67"/>
<rect x="1222" y="2282" width="424" height="231"/>
<rect x="1222" y="2541" width="424" height="65"/>
</g>
<g fill="#a6a6a6"><rect x="1221" y="2106" width="32" height="67"/><rect x="1222" y="2282" width="32" height="231"/><rect x="1222" y="2541" width="32" height="65"/></g>
<g class="sb" font-size="14" fill="#fff" text-anchor="middle">
<text x="1237" y="2125">초</text><text x="1237" y="2143">기</text><text x="1237" y="2161">화</text>
<text x="1238" y="2383">렌</text><text x="1238" y="2401">더</text><text x="1238" y="2419">링</text>
<text x="1238" y="2570">해</text><text x="1238" y="2588">제</text>
</g>
<g fill="#fff" stroke="#333" stroke-width="1.3">
<rect x="1361" y="2116" width="166" height="48" rx="8"/>
<polygon points="1444,2197 1518,2229 1444,2261 1370,2229"/>
<rect x="1263" y="2293" width="168" height="48"/>
<rect x="1263" y="2367" width="168" height="35"/>
<rect x="1263" y="2429" width="168" height="73"/>
<rect x="1463" y="2293" width="168" height="73"/>
<rect x="1463" y="2381" width="168" height="45"/>
<rect x="1463" y="2440" width="168" height="49"/>
<rect x="1365" y="2549" width="167" height="49" rx="8"/>
</g>
<g class="ln" stroke-width="1.5">
<line x1="1444" y1="2164" x2="1444" y2="2196" marker-end="url(#ar)"/>
<polyline points="1518,2229 1675,2229 1675,2527 1448,2527 1448,2540" marker-end="url(#ar)"/>
<polyline points="1444,2261 1444,2271 1347,2271 1347,2292" marker-end="url(#ar)"/>
<line x1="1347" y1="2341" x2="1347" y2="2366" marker-end="url(#ar)"/>
<line x1="1347" y1="2402" x2="1347" y2="2428" marker-end="url(#ar)"/>
<line x1="1431" y1="2466" x2="1462" y2="2466" marker-end="url(#ar)"/>
<line x1="1547" y1="2440" x2="1547" y2="2427" marker-end="url(#ar)"/>
<line x1="1547" y1="2381" x2="1547" y2="2367" marker-end="url(#ar)"/>
<polyline points="1547,2293 1547,2178 1445,2178" marker-end="url(#ar)"/>
</g>
<g class="sb" font-size="14" fill="#111">
<text x="1370" y="2138">•  장치 성능 조사</text><text x="1370" y="2156">•  디바이스 객체 생성</text>
<text x="1444" y="2226" text-anchor="middle">프로그램</text><text x="1444" y="2244" text-anchor="middle">종료</text>
<text x="1531" y="2224" font-size="17" font-weight="400">Yes</text>
<text x="1452" y="2277" font-size="17" font-weight="400">No</text>
<text x="1270" y="2314">•  후면 버퍼 clear</text><text x="1270" y="2332">•  렌더링 시작</text>
<text x="1270" y="2389">•  Facial image load</text>
<text x="1270" y="2452">•  Matrix를 이용한</text><text x="1281" y="2470">Facial image 위치,</text><text x="1281" y="2488">크기, 회전을 설정</text>
<text x="1470" y="2313">•  렌더링 끝</text><text x="1470" y="2331">•  렌더링 완료된 장면</text><text x="1481" y="2349">표시</text>
<text x="1470" y="2399">•  1 us 단위의 세밀한</text><text x="1481" y="2417">애니메이션 변화</text>
<text x="1470" y="2459">•  알파블렌딩을 통한</text><text x="1481" y="2477">다양한 시각 효과</text>
<text x="1374" y="2570">•  초기화된 디바이스</text><text x="1385" y="2588">객체 소거</text>
</g>
<g class="sb" fill="#111">
<text x="1700" y="2138" font-size="16">•</text>
<text x="1720" y="2139" font-size="19" textLength="222" lengthAdjust="spacingAndGlyphs">Facial image world matrix</text>
<text x="1704" y="2378" font-size="16">•</text>
<text x="1726" y="2380" font-size="19" textLength="120" lengthAdjust="spacingAndGlyphs">Alphablending</text>
<text x="1704" y="2532" font-size="16">•</text>
<text x="1726" y="2534" font-size="19" textLength="230" lengthAdjust="spacingAndGlyphs">QueryPerformanceCounter</text>
</g>
<g class="mt">
<text x="1761" y="2160">위치</text><text x="1880" y="2160">크기</text><text x="2026" y="2160">X-Axis</text>
<text x="1830" y="2267">Y-Axis</text><text x="1997" y="2267">Z-Axis</text>
<text x="1819" y="2212">*</text><text x="1941" y="2212">*</text><text x="1746" y="2314">*</text><text x="1915" y="2314">*</text>
<text x="1724" y="2179">1</text><text x="1749" y="2179">0</text><text x="1775" y="2179">0</text><text x="1800" y="2179">x</text>
<text x="1724" y="2201">0</text><text x="1749" y="2201">1</text><text x="1775" y="2201">0</text><text x="1800" y="2201">y</text>
<text x="1724" y="2223">0</text><text x="1749" y="2223">0</text><text x="1775" y="2223">1</text><text x="1800" y="2223">z</text>
<text x="1724" y="2245">0</text><text x="1749" y="2245">0</text><text x="1775" y="2245">0</text><text x="1800" y="2245">1</text>
<text x="1842" y="2179">x</text><text x="1868" y="2179">0</text><text x="1893" y="2179">0</text><text x="1919" y="2179">0</text>
<text x="1842" y="2201">0</text><text x="1868" y="2201">y</text><text x="1893" y="2201">0</text><text x="1919" y="2201">0</text>
<text x="1842" y="2223">0</text><text x="1868" y="2223">0</text><text x="1893" y="2223">z</text><text x="1919" y="2223">0</text>
<text x="1842" y="2245">0</text><text x="1868" y="2245">0</text><text x="1893" y="2245">0</text><text x="1919" y="2245">1</text>
<text x="1970" y="2185">1</text><text x="2006" y="2185">0</text><text x="2044" y="2185">0</text><text x="2082" y="2185">0</text>
<text x="1970" y="2205">0</text><text x="2006" y="2205">cosθ</text><text x="2044" y="2205">-sinθ</text><text x="2082" y="2205">0</text>
<text x="1970" y="2224">0</text><text x="2006" y="2224">sinθ</text><text x="2044" y="2224">cosθ</text><text x="2082" y="2224">0</text>
<text x="1970" y="2244">0</text><text x="2006" y="2244">0</text><text x="2044" y="2244">0</text><text x="2082" y="2244">1</text>
<text x="1773" y="2285">cosθ</text><text x="1811" y="2285">0</text><text x="1849" y="2285">sinθ</text><text x="1886" y="2285">0</text>
<text x="1773" y="2305">0</text><text x="1811" y="2305">1</text><text x="1849" y="2305">0</text><text x="1886" y="2305">0</text>
<text x="1773" y="2323">-sinθ</text><text x="1811" y="2323">0</text><text x="1849" y="2323">cosθ</text><text x="1886" y="2323">0</text>
<text x="1773" y="2343">0</text><text x="1811" y="2343">0</text><text x="1849" y="2343">0</text><text x="1886" y="2343">1</text>
<text x="1942" y="2287">cosθ</text><text x="1980" y="2287">-sinθ</text><text x="2018" y="2287">0</text><text x="2056" y="2287">0</text>
<text x="1942" y="2306">-sinθ</text><text x="1980" y="2306">cosθ</text><text x="2018" y="2306">0</text><text x="2056" y="2306">0</text>
<text x="1942" y="2326">0</text><text x="1980" y="2326">0</text><text x="2018" y="2326">1</text><text x="2056" y="2326">0</text>
<text x="1942" y="2345">0</text><text x="1980" y="2345">0</text><text x="2018" y="2345">0</text><text x="2056" y="2345">1</text>
</g>
<g stroke="#444" stroke-width="1">
<line x1="1712" y1="2164" x2="1712" y2="2251"/><line x1="1811" y1="2164" x2="1811" y2="2251"/>
<line x1="1830" y1="2164" x2="1830" y2="2251"/><line x1="1932" y1="2164" x2="1932" y2="2251"/>
<line x1="1951" y1="2170" x2="1951" y2="2250"/><line x1="2100" y1="2170" x2="2100" y2="2250"/>
<line x1="1755" y1="2271" x2="1755" y2="2349"/><line x1="1905" y1="2271" x2="1905" y2="2349"/>
<line x1="1925" y1="2271" x2="1925" y2="2349"/><line x1="2074" y1="2271" x2="2074" y2="2349"/>
</g>
<g>
<ellipse cx="1777" cy="2442" rx="40" ry="41" fill="#9a9a9a"/><ellipse cx="1777" cy="2451" rx="31" ry="28" fill="#fff"/>
<path d="M1746,2445 Q1760,2420 1790,2425 Q1800,2430 1808,2445 L1808,2420 L1746,2420 Z" fill="#9a9a9a"/>
<ellipse cx="1899" cy="2442" rx="40" ry="41" fill="#555"/><ellipse cx="1899" cy="2451" rx="31" ry="28" fill="#fff"/>
<path d="M1868,2445 Q1882,2420 1912,2425 Q1922,2430 1930,2445 L1930,2420 L1868,2420 Z" fill="#555"/>
<ellipse cx="2021" cy="2442" rx="40" ry="41" fill="#000"/><ellipse cx="2021" cy="2451" rx="31" ry="28" fill="#fff"/>
<path d="M1990,2445 Q2004,2420 2034,2425 Q2044,2430 2052,2445 L2052,2420 L1990,2420 Z" fill="#000"/>
<g fill="#333"><circle cx="1766" cy="2449" r="3"/><circle cx="1788" cy="2449" r="3"/><circle cx="1888" cy="2449" r="3"/><circle cx="1910" cy="2449" r="3"/><circle cx="2010" cy="2449" r="3"/><circle cx="2032" cy="2449" r="3"/></g>
<g fill="none" stroke="#333" stroke-width="3"><path d="M1767,2462 Q1777,2470 1787,2462"/><path d="M1889,2462 Q1899,2470 1909,2462"/><path d="M2011,2462 Q2021,2470 2031,2462"/></g>
<polygon points="1826,2438 1838,2438 1838,2432 1848,2442 1838,2452 1838,2446 1826,2446" fill="#111"/>
<polygon points="1948,2438 1960,2438 1960,2432 1970,2442 1960,2452 1960,2446 1948,2446" fill="#111"/>
</g>
<text class="s" x="1722" y="2506" font-size="10" fill="#222" textLength="367" lengthAdjust="spacingAndGlyphs">➤ Source pixel · Source factor + Destination pixel · Destination factor</text>
<g fill="#fff" stroke="#222" stroke-width="1.8">
<rect x="1801" y="2544" width="34" height="20"/><rect x="1848" y="2544" width="34" height="20"/><rect x="1894" y="2544" width="34" height="20"/><rect x="1941" y="2544" width="34" height="20"/><rect x="1987" y="2544" width="34" height="20"/>
</g>
<rect x="1842" y="2539" width="185" height="31" fill="none" stroke="#888"/>
<g fill="#111"><polygon points="1815,2549 1823,2554 1815,2559"/><polygon points="1862,2549 1870,2554 1862,2559"/><polygon points="1908,2549 1916,2554 1908,2559"/><polygon points="1955,2549 1963,2554 1955,2559"/><polygon points="2001,2549 2009,2554 2001,2559"/></g>
<rect x="1842" y="2580" width="178" height="6" fill="#111"/><polygon points="2018,2576 2028,2583 2018,2590" fill="#111"/>
<text class="s" x="1722" y="2599" font-size="10" fill="#222" textLength="175" lengthAdjust="spacingAndGlyphs">➤ 1 us 단위로 애니메이션 효과 변화</text>
</g>

<!-- 4 & 5 -->
<g transform="translate(0,-16)">
<rect x="1160" y="2632" width="657" height="71" fill="#fea5a5"/>
<text class="h" x="1167" y="2689" font-size="50" textLength="297" lengthAdjust="spacingAndGlyphs">4. 시스템 설계</text>
<g class="s" font-size="29" fill="#111">
<text x="1170" y="2752" textLength="1018" lengthAdjust="spacingAndGlyphs">본 연구의 기대결과는 관람객의 사진을 정확하게 mapping하고, 그 과정을 관람객의 착석</text>
<text x="1170" y="2784" textLength="1020" lengthAdjust="spacingAndGlyphs">시간 내에 완수하는 것이다. 또한 확보한 face image를 모두 활용하는 것, animation으로</text>
<text x="1170" y="2816" textLength="876" lengthAdjust="spacingAndGlyphs">변환하는 System이 기업 입장에서의 응용성을 확보하는 것을 기대하고 있다.</text>
</g>
<rect x="1160" y="2832" width="657" height="74" fill="#fea5a5"/>
<text class="h" x="1167" y="2891" font-size="50" textLength="142" lengthAdjust="spacingAndGlyphs">5. 요약</text>
<g class="s" font-size="30" fill="#111">
<text x="1182" y="2952" textLength="618" lengthAdjust="spacingAndGlyphs">본 논문에서는 관객 얼굴을 활용한 영상 상영의 매커니</text>
<text x="1182" y="2985" textLength="608" lengthAdjust="spacingAndGlyphs">즘을 제공하였다. 이미지를 추출하고 가공하는 알고리</text>
<text x="1182" y="3017" textLength="601" lengthAdjust="spacingAndGlyphs">즘과 gpu 가속 기술이 기능을 수행할 수 있도록 함으</text>
<text x="1182" y="3048" textLength="596" lengthAdjust="spacingAndGlyphs">로서 관객이 자신의 얼굴을 착석하자마자 볼 수 있는</text>
<text x="1182" y="3081" textLength="615" lengthAdjust="spacingAndGlyphs">환경을 제공한다. 향후 코드의 개선 및 animation tool</text>
<text x="1182" y="3114" textLength="622" lengthAdjust="spacingAndGlyphs">의 기능 강화에 의해 상영관 등에서 유용하게 사용되는</text>
<text x="1182" y="3146" textLength="166" lengthAdjust="spacingAndGlyphs">것을 기대한다.</text>
</g>
<g fill="#fff" stroke="#333" stroke-width="1.5">
<ellipse cx="1914" cy="2990" rx="51" ry="53"/><ellipse cx="2031" cy="2990" rx="51" ry="53"/><ellipse cx="2148" cy="2990" rx="51" ry="53"/>
</g>
<rect x="1887" y="2946" width="53" height="33" fill="#aaa"/>
<g fill="#2b3f7f"><circle cx="1897" cy="2968" r="6"/><circle cx="1913" cy="2968" r="6"/><circle cx="1929" cy="2968" r="6"/><circle cx="1913" cy="2955" r="6"/></g>
<g fill="#f4511e"><rect x="1887" y="2983" width="10" height="11" rx="3"/><rect x="1901" y="2983" width="10" height="11" rx="3"/><rect x="1915" y="2983" width="10" height="11" rx="3"/><rect x="1929" y="2983" width="10" height="11" rx="3"/></g>
<rect x="1885" y="2994" width="56" height="3" fill="#333"/>
<path d="M2002,3005 A30,30 0 1 1 2060,3005" fill="none" stroke="#f06a2a" stroke-width="9" stroke-dasharray="10,3"/>
<line x1="2030" y1="3002" x2="2043" y2="2960" stroke="#f06a2a" stroke-width="4"/>
<circle cx="2030" cy="3003" r="5" fill="#f06a2a"/>
<text x="2148" y="2998" text-anchor="middle" font-family="Liberation Sans,sans-serif" font-size="26" fill="#c8ccd8">&lt;/&gt;</text>
<g font-family="Liberation Serif,'Noto Serif CJK SC',serif" font-size="11" fill="#666" text-anchor="middle">
<text x="1914" y="3069">사람 수에 맞게</text><text x="1914" y="3083">보여줄 것인가?</text>
<text x="2031" y="3069">퍼포먼스를</text><text x="2031" y="3083">높일 수 있는가?</text>
<text x="2148" y="3069">회사의 입장에서</text><text x="2148" y="3083">응용이 가능한가?</text>
</g>
</g>
</svg>
</body></html>
